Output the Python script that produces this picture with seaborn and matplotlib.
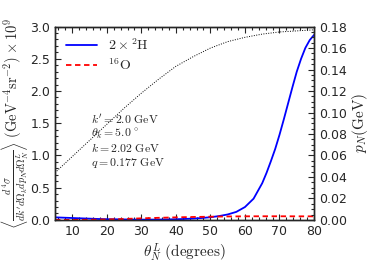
import matplotlib
matplotlib.use("Agg")
import matplotlib.pyplot as plt
from matplotlib.ticker import AutoMinorLocator, MultipleLocator
import seaborn as sns
import pandas as pd

# =============================================
# data
# =============================================
theta_h = [5, 7.5, 10, 12.5, 15, 17.5, 20, 22.5, 25, 27.5, 30, 32.5, 35, 37.5,
           40, 42.5, 45, 47.5, 50, 52.5, 55, 57.5, 60, 62.5, 65, 66.25, 67.5,
           68.75, 70, 71.25, 72.5, 73.75, 75, 76.25, 77.5, 78.75, 80]
xs_h = [0.04, 0.035, 0.03, 0.025, 0.02, 0.015, 0.012, 0.01, 0.008, 0.006,
        0.005, 0.005, 0.006, 0.008, 0.011, 0.015, 0.021, 0.03, 0.042, 0.06,
        0.085, 0.125, 0.20, 0.33, 0.57, 0.73, 0.91, 1.10, 1.32, 1.56, 1.81,
        2.06, 2.30, 2.50, 2.67, 2.79, 2.87]

theta_o = [5, 10, 15, 20, 25, 30, 35, 40, 45, 50, 55, 60, 65, 70, 75, 80]
xs_o = [0.0, 0.0, 0.003, 0.008, 0.015, 0.025, 0.033, 0.04, 0.046, 0.05,
        0.054, 0.056, 0.057, 0.057, 0.056, 0.056]

theta_p = [5, 10, 15, 20, 25, 30, 35, 40, 45, 50, 55, 60, 65, 70, 75, 80]
p_n = [0.044, 0.059, 0.074, 0.089, 0.104, 0.118, 0.131, 0.143, 0.152, 0.160,
       0.166, 0.170, 0.173, 0.175, 0.176, 0.177]

kin_text = [r"$k'=2.0\ \mathrm{GeV}$", r"$\theta_k=5.0\,^\circ$",
            r"$k=2.02\ \mathrm{GeV}$", r"$q=0.177\ \mathrm{GeV}$"]

df_h = pd.DataFrame({"theta": theta_h, "xs": xs_h})
df_o = pd.DataFrame({"theta": theta_o, "xs": xs_o})
df_p = pd.DataFrame({"theta": theta_p, "p": p_n})

# =============================================
# figure
# =============================================
sns.set_style("ticks")
plt.rcParams["font.family"] = ["DejaVu Sans"]
plt.rcParams["mathtext.fontset"] = "cm"
plt.rcParams["xtick.direction"] = "in"
plt.rcParams["ytick.direction"] = "in"

fig = plt.figure(figsize=(3.69, 2.77), dpi=100)
ax = fig.add_axes([0.149, 0.206, 0.702, 0.698])
ax2 = ax.twinx()

sns.lineplot(data=df_h, x="theta", y="xs", ax=ax, color="blue", lw=1.3,
             label=r"$2\times{}^2\mathrm{H}$")
sns.lineplot(data=df_o, x="theta", y="xs", ax=ax, color="red", lw=1.3,
             linestyle=(0, (3, 2)), label=r"$^{16}\mathrm{O}$")
sns.lineplot(data=df_p, x="theta", y="p", ax=ax2, color="black", lw=0.7,
             linestyle=(0, (1, 1.5)))

ax.set_xlim(5, 80)
ax.set_ylim(0, 3.0)
ax2.set_ylim(0, 0.18)
ax.xaxis.set_major_locator(MultipleLocator(10))
ax.xaxis.set_minor_locator(AutoMinorLocator(5))
ax.yaxis.set_major_locator(MultipleLocator(0.5))
ax.yaxis.set_minor_locator(AutoMinorLocator(5))
ax2.yaxis.set_major_locator(MultipleLocator(0.02))
ax2.yaxis.set_minor_locator(AutoMinorLocator(4))

ax.tick_params(which="both", top=True, labelsize=9, width=0.8)
ax.tick_params(which="major", length=4)
ax.tick_params(which="minor", length=2)
ax2.tick_params(which="major", length=4, labelsize=9, width=0.8)
ax2.tick_params(which="minor", length=2, width=0.8)
for a in (ax, ax2):
    for s in a.spines.values():
        s.set_linewidth(1.0)

ax.set_xlabel(r"$\theta_N^L\ \mathrm{(degrees)}$", fontsize=11, labelpad=3)
ax.set_ylabel(r"$\left\langle\frac{d^4\sigma}{dk'd\Omega_k dp_N d\Omega_N^L}\right\rangle\ "
              r"(\mathrm{GeV}^{-4}\mathrm{sr}^{-2})\times10^9$", fontsize=10.5, labelpad=0)
ax2.set_ylabel(r"$p_N(\mathrm{GeV})$", fontsize=11, labelpad=2)

ax.legend(loc="upper left", frameon=False, fontsize=10, handlelength=2.2,
          borderaxespad=0.4, labelspacing=0.3)

for i, t in enumerate(kin_text):
    ax.text(15.3, 1.55 - i * 0.22, t, fontsize=8.5, va="center")

fig.savefig("out.png", dpi=100)
